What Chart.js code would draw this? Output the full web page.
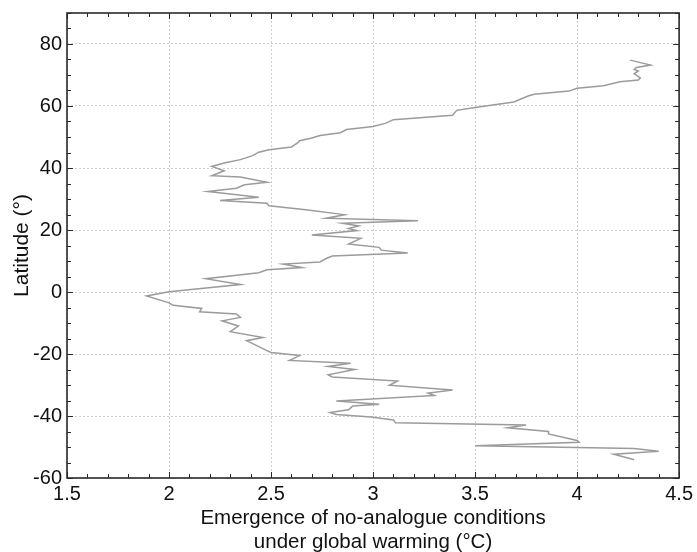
<!DOCTYPE html>
<html>
<head>
<meta charset="utf-8">
<script src="https://cdn.jsdelivr.net/npm/chart.js@4"></script>
<style>
  body { margin: 0; background: #fff; }
  #wrap { width: 697px; height: 552px; }
</style>
</head>
<body>
<div id="wrap"><canvas id="emergence"></canvas></div>
<script>
// latitude band (deg) and warming level (deg C) at which no-analogue conditions emerge
var latitude = [
  74.8, 73.2, 72.4, 71.8, 71.3, 70.4, 69.1, 68.4, 67.8, 66.5,
  65.7, 64.8, 63.8, 63.2, 61.3, 59.5, 58.6, 57.0, 55.6, 54.4,
  53.4, 52.4, 51.4, 50.5, 49.7, 48.8, 48.1, 46.8, 45.9, 45.1,
  44.0, 42.7, 41.6, 40.5, 39.1, 37.5, 37.1, 35.4, 34.6, 33.5,
  32.4, 30.6, 29.5, 28.6, 27.8, 26.5, 25.2, 24.9, 23.8, 23.0,
  22.2, 21.3, 20.5, 19.8, 18.4, 17.3, 15.5, 14.4, 13.5, 12.6,
  11.6, 10.8, 9.7, 9.0, 7.9, 7.2, 6.2, 4.3, 2.4, 0.1,
  -1.3, -3.5, -4.3, -5.3, -6.4, -7.1, -8.2, -9.3, -11.0, -12.8,
  -14.7, -15.7, -18.6, -19.5, -20.5, -22.1, -23.0, -24.0, -25.0, -26.7,
  -27.4, -28.7, -30.1, -31.6, -32.6, -33.4, -35.2, -36.2, -36.8, -38.0,
  -38.9, -39.5, -40.3, -41.3, -42.2, -42.9, -43.8, -45.0, -45.8, -47.9,
  -48.5, -49.6, -50.5, -51.4, -52.3, -54.1
];
var warming = [
  4.26, 4.36, 4.29, 4.28, 4.30, 4.28, 4.31, 4.30, 4.21, 4.13,
  4.00, 3.96, 3.79, 3.76, 3.69, 3.50, 3.41, 3.39, 3.10, 3.06,
  3.00, 2.87, 2.84, 2.74, 2.70, 2.64, 2.63, 2.60, 2.49, 2.44,
  2.41, 2.35, 2.27, 2.21, 2.27, 2.21, 2.35, 2.48, 2.37, 2.33,
  2.19, 2.44, 2.25, 2.48, 2.49, 2.67, 2.83, 2.86, 2.77, 3.22,
  2.85, 2.93, 2.88, 2.92, 2.70, 2.94, 2.88, 3.03, 3.04, 3.17,
  2.80, 2.77, 2.74, 2.56, 2.65, 2.48, 2.44, 2.18, 2.35, 2.00,
  1.89, 2.00, 2.02, 2.16, 2.15, 2.33, 2.35, 2.26, 2.34, 2.30,
  2.46, 2.38, 2.47, 2.50, 2.64, 2.59, 2.89, 2.78, 2.91, 2.78,
  2.80, 3.12, 3.08, 3.39, 3.27, 3.30, 2.82, 3.03, 2.90, 2.88,
  2.79, 2.82, 2.99, 3.10, 3.11, 3.75, 3.66, 3.86, 3.86, 4.00,
  4.01, 3.50, 4.28, 4.40, 4.18, 4.28
];

var xRange = [1.5, 4.5];
var yRange = [-60, 90];

var points = latitude.map(function (lat, i) {
  return { x: warming[i], y: lat };
});

// closed frame with inward major/minor ticks on all four sides
var framePlugin = {
  id: 'frame',
  afterDatasetsDraw: function (chart) {
    var ctx = chart.ctx;
    var a = chart.chartArea;
    var xs = chart.scales.x, ys = chart.scales.y;
    ctx.save();
    ctx.strokeStyle = '#2a2a2a';
    ctx.lineWidth = 1;
    var v, px, len;
    for (v = 15; v <= 45; v++) {
      px = Math.round(xs.getPixelForValue(v / 10)) + 0.5;
      len = v % 5 === 0 ? 6 : 4;
      ctx.beginPath();
      ctx.moveTo(px, a.bottom); ctx.lineTo(px, a.bottom - len);
      ctx.moveTo(px, a.top); ctx.lineTo(px, a.top + len);
      ctx.stroke();
    }
    for (v = -60; v <= 90; v += 5) {
      px = Math.round(ys.getPixelForValue(v)) + 0.5;
      len = v % 20 === 0 ? 6 : 4;
      ctx.beginPath();
      ctx.moveTo(a.left, px); ctx.lineTo(a.left + len, px);
      ctx.moveTo(a.right, px); ctx.lineTo(a.right - len, px);
      ctx.stroke();
    }
    ctx.lineWidth = 1.6;
    ctx.strokeRect(a.left, a.top, a.right - a.left, a.bottom - a.top);
    ctx.restore();
  }
};

var font = "'Liberation Sans', Arial, Helvetica, sans-serif";

new Chart(document.getElementById('emergence').getContext('2d'), {
  type: 'scatter',
  data: {
    datasets: [{
      data: points,
      showLine: true,
      borderColor: '#9b9b9b',
      borderWidth: 1.5,
      pointRadius: 0,
      tension: 0,
      fill: false
    }]
  },
  options: {
    responsive: true,
    maintainAspectRatio: false,
    animation: false,
    layout: { padding: { top: 13, right: 16, left: 0, bottom: 0 } },
    plugins: { legend: { display: false }, tooltip: { enabled: false } },
    scales: {
      x: {
        type: 'linear',
        min: xRange[0],
        max: xRange[1],
        afterFit: function (s) { s.height = 74; },
        ticks: {
          stepSize: 0.5, padding: 4, color: '#111',
          font: { family: font, size: 20 },
          callback: function (v) { return String(v); }
        },
        grid: { color: '#cfcfcf', lineWidth: 1, drawTicks: false },
        border: { display: false, dash: [2, 2] },
        title: {
          display: true,
          text: ['Emergence of no-analogue conditions', 'under global warming (°C)'],
          color: '#111',
          font: { family: font, size: 20.5, lineHeight: 1.17 },
          padding: { top: 0, bottom: -2 }
        }
      },
      y: {
        type: 'linear',
        min: yRange[0],
        max: yRange[1],
        afterFit: function (s) {
          s.width = 67;
          s.paddingTop = 0;
          s.paddingBottom = 0;
        },
        ticks: { stepSize: 20, includeBounds: false, padding: 5, color: '#111', font: { family: font, size: 20 } },
        grid: { color: '#cfcfcf', lineWidth: 1, drawTicks: false },
        border: { display: false, dash: [2, 2] },
        title: {
          display: true,
          text: 'Latitude (°)',
          color: '#111',
          font: { family: font, size: 21, lineHeight: 1.2 },
          padding: { top: 10, bottom: 0 }
        }
      }
    }
  },
  plugins: [framePlugin]
});
</script>
</body>
</html>
